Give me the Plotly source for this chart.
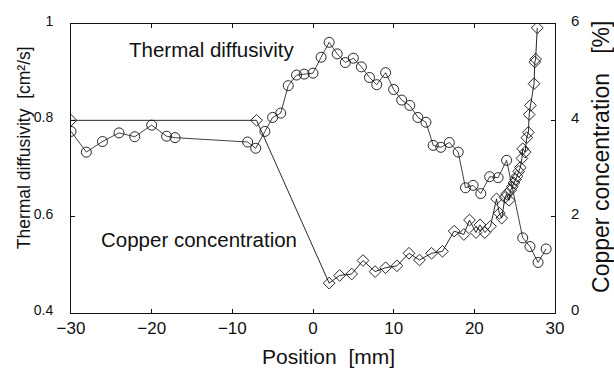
import plotly.graph_objects as go

# Thermal diffusivity (left axis, cm^2/s)
thermal_pos = [-30.0, -28.1, -26.1, -24.05, -22.1, -20.0, -18.15, -17.1, -8.1, -7.1,
               -5.96, -5.0, -4.0, -3.07, -2.04, -1.1, 0.0, 1.0, 2.0, 3.0,
               4.0, 5.0, 6.0, 7.0, 7.9, 9.0, 10.0, 11.0, 12.0, 13.0,
               14.0, 14.9, 15.85, 16.9, 18.0, 18.9, 19.85, 20.8, 21.9, 22.95,
               24.0, 26.0, 26.9, 27.9, 28.9]
thermal_val = [0.777, 0.734, 0.756, 0.774, 0.766, 0.790, 0.767, 0.764, 0.755, 0.742,
               0.777, 0.806, 0.815, 0.872, 0.894, 0.896, 0.898, 0.931, 0.962, 0.938,
               0.920, 0.929, 0.911, 0.889, 0.874, 0.899, 0.864, 0.842, 0.831, 0.806,
               0.796, 0.748, 0.744, 0.754, 0.734, 0.660, 0.665, 0.648, 0.683, 0.681,
               0.717, 0.556, 0.538, 0.505, 0.533]

# Copper concentration (right axis, %)
copper_pos = [-30.0, -7.0, 2.0, 3.3, 4.8, 6.2, 7.7, 9.0, 10.4, 11.9,
              13.2, 14.7, 16.05, 17.5, 18.7, 19.4, 20.2, 20.7, 21.3, 22.0,
              22.75, 23.1, 23.4, 23.8, 24.0, 24.3, 24.5, 24.7, 24.9, 25.1,
              25.3, 25.5, 25.7, 25.9, 26.0, 26.3, 26.5, 26.7, 26.8, 26.96,
              27.4, 27.5, 27.6, 27.8]
copper_val = [4.0, 4.0, 0.62, 0.78, 0.81, 1.09, 0.86, 0.94, 0.98, 1.24,
              1.10, 1.24, 1.28, 1.70, 1.63, 1.93, 1.67, 1.83, 1.67, 1.80,
              2.37, 2.07, 1.97, 2.40, 2.47, 2.34, 2.55, 2.62, 2.70, 2.77,
              2.84, 2.94, 3.02, 3.21, 3.41, 3.34, 3.64, 3.75, 4.12, 4.31,
              4.76, 5.21, 5.27, 5.92]

x_ticks = [-30, -20, -10, 0, 10, 20, 30]
y1_ticks = [0.4, 0.6, 0.8, 1.0]
y1_labels = ["0.4", "0.6", "0.8", "1"]
y2_ticks = [0, 2, 4, 6]
y2_labels = ["0", "2", "4", "6"]

FONT = "Liberation Sans, Arial, sans-serif"
INK = "#111111"

fig = go.Figure()
fig.add_trace(go.Scatter(
    x=thermal_pos, y=thermal_val, mode="lines+markers", yaxis="y",
    line=dict(color=INK, width=0.8),
    marker=dict(symbol="circle-open", size=10, color=INK, line=dict(width=0.9)),
    showlegend=False))
fig.add_trace(go.Scatter(
    x=copper_pos, y=copper_val, mode="lines+markers", yaxis="y2",
    line=dict(color=INK, width=0.9),
    marker=dict(symbol="diamond-open", size=9, color=INK, line=dict(width=0.9)),
    showlegend=False))

fig.update_layout(
    width=614, height=368,
    margin=dict(l=71, r=59, t=14, b=55),
    paper_bgcolor="white", plot_bgcolor="white",
    font=dict(family=FONT, color=INK),
    xaxis=dict(range=[-30, 30], tickvals=x_ticks, ticks="inside", ticklen=4,
               tickcolor=INK, showline=True, linecolor=INK, linewidth=1,
               mirror="ticks", showgrid=False, zeroline=False,
               tickfont=dict(size=17)),
    yaxis=dict(range=[0.4, 1.0], tickvals=y1_ticks, ticktext=y1_labels,
               ticks="inside", ticklen=4, tickcolor=INK, showline=True,
               linecolor=INK, linewidth=1, showgrid=False, zeroline=False,
               tickfont=dict(size=14), ticklabelstandoff=14, ticklabelshift=-3),
    yaxis2=dict(range=[0, 6], tickvals=y2_ticks, ticktext=y2_labels,
                overlaying="y", side="right", ticks="inside", ticklen=4,
                tickcolor=INK, showline=True, linecolor=INK, linewidth=1,
                showgrid=False, zeroline=False, tickfont=dict(size=15),
                ticklabelstandoff=12, ticklabelshift=-3),
)

annotations = [
    dict(text="Thermal diffusivity", x=-23.06, y=0.938, xref="x", yref="y",
         yshift=4, xanchor="left", yanchor="middle", showarrow=False,
         font=dict(size=20.5, family=FONT, color=INK)),
    dict(text="Copper concentration", x=-26.5, y=0.546, xref="x", yref="y",
         yshift=3, xanchor="left", yanchor="middle", showarrow=False,
         font=dict(size=20.5, family=FONT, color=INK)),
    dict(text="Thermal diffusivity  [cm²/s]", x=0, y=0.57, xref="paper", yref="paper",
         xshift=-47, textangle=-90, xanchor="center", yanchor="middle",
         showarrow=False, font=dict(size=17.5, family=FONT, color=INK)),
    dict(text="Copper concentration   [%]", x=1, y=0.54, xref="paper", yref="paper",
         xshift=46, textangle=-90, xanchor="center", yanchor="middle",
         showarrow=False, font=dict(size=23, family=FONT, color=INK)),
    dict(text="Position  [mm]", x=0.531, y=0, xref="paper", yref="paper",
         yshift=-43, xanchor="center", yanchor="middle",
         showarrow=False, font=dict(size=21, family=FONT, color=INK)),
]
fig.update_layout(annotations=annotations)

fig.write_html("out.html")
